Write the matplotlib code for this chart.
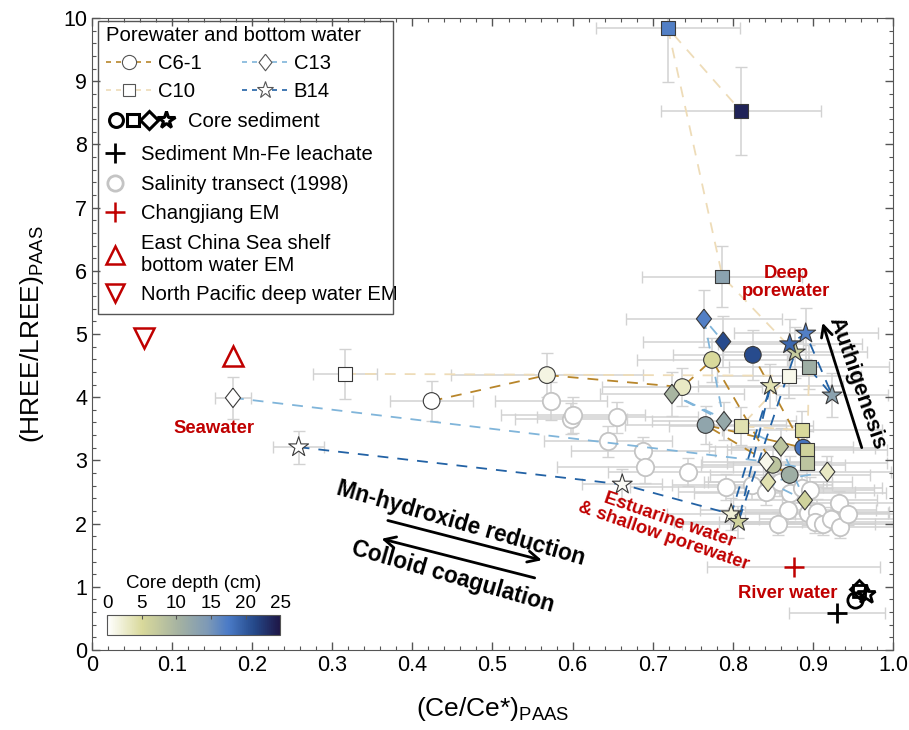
import numpy as np
import matplotlib.pyplot as plt
from matplotlib.colors import LinearSegmentedColormap, Normalize
from matplotlib.cm import ScalarMappable
from matplotlib.lines import Line2D
from matplotlib.patches import Rectangle
from matplotlib.legend_handler import HandlerTuple

plt.rcParams['font.family'] = ['Liberation Sans', 'DejaVu Sans']
plt.rcParams['mathtext.default'] = 'regular'

# ---- porewater / bottom water profiles (depth 0 = bottom water) ----
c61_ce = [0.424, 0.568, 0.737, 0.774, 0.850, 0.871, 0.766, 0.888, 0.825]
c61_hl = [3.94, 4.35, 4.16, 4.59, 2.93, 2.77, 3.56, 3.20, 4.67]
c61_depth = [0, 1.5, 3, 5, 8, 11, 12.5, 18, 21]
c61_xerr = [0.052, 0.12, 0.10, 0.094, 0.09, 0.10, 0.10, 0.09, 0.10]
c61_yerr = [0.32, 0.35, 0.30, 0.35, 0.30, 0.30, 0.30, 0.35, 0.40]

c10_ce = [0.316, 0.870, 0.810, 0.886, 0.893, 0.893, 0.895, 0.787, 0.719, 0.810]
c10_hl = [4.37, 4.34, 3.54, 3.48, 3.16, 2.96, 4.48, 5.91, 9.84, 8.53]
c10_depth = [0, 1, 4, 5, 6, 8, 11, 13, 17, 24]
c10_xerr = [0.04, 0.09, 0.09, 0.10, 0.10, 0.10, 0.10, 0.10, 0.09, 0.10]
c10_yerr = [0.40, 0.35, 0.30, 0.30, 0.30, 0.30, 0.35, 0.48, 0.85, 0.70]

c13_ce = [0.176, 0.842, 0.918, 0.844, 0.890, 0.860, 0.724, 0.789, 0.764, 0.788]
c13_hl = [3.99, 2.98, 2.82, 2.66, 2.37, 3.22, 4.05, 3.62, 5.24, 4.88]
c13_depth = [0, 1, 3, 4, 6, 8, 10, 12, 17, 21]
c13_xerr = [0.022, 0.08, 0.08, 0.08, 0.09, 0.09, 0.09, 0.09, 0.097, 0.10]
c13_yerr = [0.33, 0.25, 0.25, 0.25, 0.25, 0.30, 0.35, 0.30, 0.45, 0.40]

b14_ce = [0.258, 0.662, 0.798, 0.847, 0.807, 0.878, 0.924, 0.891, 0.871]
b14_hl = [3.21, 2.62, 2.15, 4.18, 2.03, 4.71, 4.03, 5.01, 4.84]
b14_depth = [0, 0.5, 2, 4, 6, 7, 13, 17, 19]
b14_xerr = [0.032, 0.05, 0.08, 0.09, 0.08, 0.09, 0.07, 0.09, 0.09]
b14_yerr = [0.26, 0.25, 0.25, 0.35, 0.25, 0.40, 0.35, 0.40, 0.40]

# ---- salinity transect 1998 ----
sal_ce = [0.573, 0.598, 0.600, 0.644, 0.656, 0.688, 0.690, 0.744, 0.792, 0.824,
          0.842, 0.859, 0.871, 0.886, 0.896, 0.869, 0.894, 0.905, 0.903, 0.913,
          0.923, 0.934, 0.932, 0.944, 0.857]
sal_hl = [3.94, 3.66, 3.72, 3.30, 3.68, 3.15, 2.90, 2.82, 2.58, 2.61,
          2.50, 2.66, 2.48, 2.56, 2.53, 2.21, 2.16, 2.19, 2.03, 2.00,
          2.08, 1.95, 2.32, 2.15, 2.00]
sal_xerr = [0.07, 0.07, 0.09, 0.08, 0.10, 0.09, 0.11, 0.10, 0.12, 0.10,
            0.11, 0.09, 0.12, 0.10, 0.08, 0.11, 0.10, 0.09, 0.12, 0.10,
            0.09, 0.08, 0.07, 0.08, 0.12]
sal_yerr = [0.30, 0.25, 0.28, 0.25, 0.25, 0.22, 0.25, 0.22, 0.20, 0.22,
            0.20, 0.22, 0.20, 0.22, 0.20, 0.18, 0.18, 0.20, 0.18, 0.18,
            0.18, 0.18, 0.20, 0.18, 0.18]

# ---- core sediment, leachate and end-members ----
core_ce = [0.953, 0.957, 0.958, 0.966]
core_hl = [0.79, 0.94, 0.96, 0.89]
leach_ce, leach_hl, leach_xerr = 0.930, 0.58, 0.06
cj_ce, cj_hl, cj_xerr = 0.876, 1.32, 0.108
ecs_ce, ecs_hl = 0.176, 4.65
np_ce, np_hl = 0.065, 4.94

depth_cmap = LinearSegmentedColormap.from_list('depth', [
    (0.0, '#ffffff'), (0.2, '#d9d99b'), (0.42, '#a3b1a2'), (0.58, '#7d99b6'),
    (0.7, '#4a7bc7'), (0.85, '#25498a'), (1.0, '#1e1646')])
norm = Normalize(0, 25)

diamond = [(0, 1), (0.78, 0), (0, -1), (-0.78, 0), (0, 1)]
red = '#c00000'
err_kw = dict(fmt='none', ecolor='#d2d2d2', elinewidth=1.1, capsize=4.5, zorder=1)
dash = (0, (6, 5))

fig = plt.figure(figsize=(9.09, 7.30), dpi=100)
ax = fig.add_axes([0.1012, 0.1096, 0.8812, 0.8657])

# salinity transect
ax.errorbar(sal_ce, sal_hl, xerr=sal_xerr, yerr=sal_yerr, **err_kw)
ax.plot(sal_ce, sal_hl, 'o', ms=12.5, mfc='white', mec='#c4c4c4', mew=1.3, ls='none', zorder=2)

profiles = [
    ('C6-1', c61_ce, c61_hl, c61_depth, c61_xerr, c61_yerr, 'o', 12, '#b8862b'),
    ('C10', c10_ce, c10_hl, c10_depth, c10_xerr, c10_yerr, 's', 10, '#eedcb8'),
    ('C13', c13_ce, c13_hl, c13_depth, c13_xerr, c13_yerr, diamond, 14, '#80b5da'),
    ('B14', b14_ce, b14_hl, b14_depth, b14_xerr, b14_yerr, '*', 15, '#2262a5'),
]
for name, xs, ys, d, xe, ye, mk, ms, lc in profiles:
    ax.errorbar(xs, ys, xerr=xe, yerr=ye, **err_kw)
    ax.plot(xs, ys, color=lc, ls=dash, lw=1.3, zorder=3)
    ax.scatter(xs, ys, c=d, cmap=depth_cmap, norm=norm, marker=mk, s=ms ** 2,
               edgecolors='#3a3a3a', linewidths=0.8, zorder=4)

# core sediment
for mk, x, y, ms in zip(['o', 's', 'D', '*'], core_ce, core_hl, [11, 9, 9, 14]):
    ax.plot(x, y, marker=mk, ms=ms, mfc='none', mec='black', mew=2, zorder=5)

# leachate and end-members
ax.errorbar(leach_ce, leach_hl, xerr=leach_xerr, **err_kw)
ax.plot(leach_ce, leach_hl, '+', ms=15, mew=2, color='black', zorder=5)
ax.errorbar(cj_ce, cj_hl, xerr=cj_xerr, **err_kw)
ax.plot(cj_ce, cj_hl, '+', ms=15, mew=1.8, color=red, zorder=5)
ax.plot(ecs_ce, ecs_hl, '^', ms=14, mfc='none', mec=red, mew=1.8, zorder=5)
ax.plot(np_ce, np_hl, 'v', ms=14, mfc='none', mec=red, mew=1.8, zorder=5)

# annotations
lab_kw = dict(color=red, fontweight='bold', fontsize=13.3, zorder=6)
ax.text(0.867, 5.81, 'Deep\nporewater', ha='center', va='center', linespacing=1.05, **lab_kw)
ax.text(0.152, 3.51, 'Seawater', ha='center', va='center', **lab_kw)
ax.text(0.717, 1.93, 'Estuarine water\n& shallow porewater', ha='center', va='center',
        rotation=-19, rotation_mode='anchor', linespacing=1.0, **lab_kw)
ax.text(0.868, 0.90, 'River water', ha='center', va='center', **lab_kw)

arr = dict(arrowstyle='->', lw=2, color='black', mutation_scale=20)
ax.annotate('', xy=(0.911, 5.22), xytext=(0.962, 3.16), arrowprops=arr, zorder=6)
ax.text(0.955, 4.22, 'Authigenesis', rotation=-71, ha='center', va='center',
        fontsize=16, fontweight='bold', rotation_mode='anchor')
ax.annotate('', xy=(0.565, 1.41), xytext=(0.366, 2.06), arrowprops=arr, zorder=6)
ax.annotate('', xy=(0.358, 1.77), xytext=(0.556, 1.13), arrowprops=arr, zorder=6)
ax.text(0.461, 2.0, 'Mn-hydroxide reduction', rotation=-16, ha='center', va='center',
        fontsize=16.3, fontweight='bold', rotation_mode='anchor')
ax.text(0.451, 1.16, 'Colloid coagulation', rotation=-16, ha='center', va='center',
        fontsize=16.3, fontweight='bold', rotation_mode='anchor')

# axes
ax.set_xlim(0, 1)
ax.set_ylim(0, 10)
ax.set_xticks(np.arange(0, 1.01, 0.1))
ax.set_xticklabels(['0'] + [f'{v:.1f}' for v in np.arange(0.1, 1.01, 0.1)])
ax.set_yticks(range(11))
ax.set_xticks(np.arange(0, 1.001, 0.02), minor=True)
ax.set_yticks(np.arange(0, 10.001, 0.2), minor=True)
ax.tick_params(which='both', direction='in', top=True, right=True, color='#555555',
               labelsize=15.5)
ax.tick_params(which='major', length=6, width=1)
ax.tick_params(which='minor', length=3, width=0.8)
for sp in ax.spines.values():
    sp.set_color('#555555')
ax.set_xlabel('(Ce/Ce*)$_{PAAS}$', fontsize=19, labelpad=14)
ax.set_ylabel('(HREE/LREE)$_{PAAS}$', fontsize=19, labelpad=12)

# colour bar for core depth
cax = ax.inset_axes([0.019, 0.024, 0.216, 0.032])
cb = fig.colorbar(ScalarMappable(norm=norm, cmap=depth_cmap), cax=cax, orientation='horizontal')
cb.set_ticks([0, 5, 10, 15, 20, 25])
cax.xaxis.set_ticks_position('top')
cax.xaxis.set_label_position('top')
cax.tick_params(direction='in', length=3, labelsize=13.5, pad=2, color='#555555')
cb.outline.set_edgecolor('#555555')
cax.set_xlabel('Core depth (cm)', fontsize=13.5, labelpad=5)

# legend
ax.add_patch(Rectangle((0.0075, 0.532), 0.368, 0.464, transform=ax.transAxes,
                       fill=False, edgecolor='#555555', lw=1, zorder=7))
leg_fs = 14.6
ser_handles = [Line2D([], [], color=p[8], ls=(0, (3, 3)), lw=1.2, marker=p[6],
                      ms=p[7] * 0.85, mfc='white', mec='#555555', mew=0.8)
               for p in profiles]
legA = ax.legend(ser_handles, [p[0] for p in profiles], ncol=2, loc='upper left',
                 bbox_to_anchor=(0.0175, 0.987), frameon=False, fontsize=leg_fs,
                 title='Porewater and bottom water', title_fontsize=leg_fs,
                 alignment='left', handlelength=2.25, handletextpad=0.3,
                 columnspacing=2.0, labelspacing=0.45, borderpad=0, borderaxespad=0)
ax.add_artist(legA)

core_handle = tuple(Line2D([], [], ls='none', marker=m, ms=s, mfc='none', mec='black', mew=2.2)
                    for m, s in zip(['o', 's', 'D', '*'], [10, 9, 9, 13]))
legB = ax.legend([core_handle], ['Core sediment'], loc='center left',
                 bbox_to_anchor=(0.02, 0.8355), frameon=False, fontsize=leg_fs,
                 handlelength=3.25, handletextpad=0.7,
                 handler_map={tuple: HandlerTuple(ndivide=None, pad=0)},
                 borderpad=0, borderaxespad=0)
ax.add_artist(legB)

other_handles = [
    Line2D([], [], ls='none', marker='+', ms=14, mew=2, color='black'),
    Line2D([], [], ls='none', marker='o', ms=11, mfc='white', mec='#c4c4c4', mew=2),
    Line2D([], [], ls='none', marker='+', ms=14, mew=1.8, color=red),
    Line2D([], [], ls='none', marker='^', ms=13, mfc='none', mec=red, mew=1.8),
    Line2D([], [], ls='none', marker='v', ms=13, mfc='none', mec=red, mew=1.8),
]
other_labels = ['Sediment Mn-Fe leachate', 'Salinity transect (1998)', 'Changjiang EM',
                'East China Sea shelf\nbottom water EM', 'North Pacific deep water EM']
legC = ax.legend(other_handles, other_labels, loc='upper left', bbox_to_anchor=(0.008, 0.799),
                 frameon=False, fontsize=leg_fs, handlelength=1.6, labelspacing=0.52,
                 borderpad=0, borderaxespad=0, handletextpad=0.5)

fig.savefig('out.png', dpi=100)
